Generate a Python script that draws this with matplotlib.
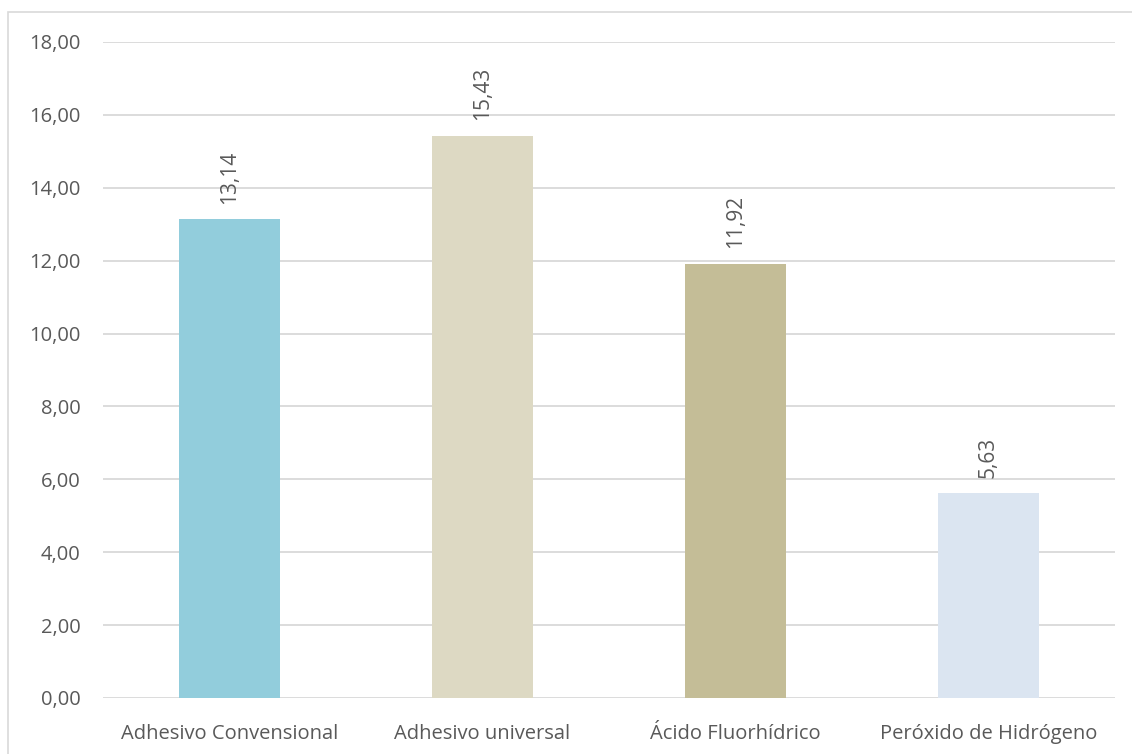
import matplotlib.pyplot as plt
from matplotlib.patches import Rectangle

# Datos del gráfico
categorias = ["Adhesivo Convensional", "Adhesivo universal", "Ácido Fluorhídrico", "Peróxido de Hidrógeno"]
valores = [13.14, 15.43, 11.92, 5.63]
colores = ["#92CDDC", "#DDD9C3", "#C4BD97", "#DBE5F1"]
yticks = [0, 2, 4, 6, 8, 10, 12, 14, 16, 18]

plt.rcParams['font.family'] = ['Open Sans', 'DejaVu Sans']
texto = "#595959"

fig = plt.figure(figsize=(11.32, 7.54), dpi=100)
ax = fig.add_axes([103 / 1132, 1 - 698 / 754, 1012 / 1132, 656 / 754])

# Marco exterior
fig.patches.append(Rectangle((8 / 1132, -0.01), 1.02, 1 - 12 / 754 + 0.01,
                             transform=fig.transFigure, fill=False,
                             edgecolor="#D9D9D9", linewidth=1.2))

x = range(len(categorias))
barras = ax.bar(x, valores, width=0.403, color=colores, zorder=2)

for xi, v in zip(x, valores):
    ax.annotate(f"{v:.2f}".replace(".", ","), (xi, v), xytext=(0, 11),
                textcoords="offset points", rotation=90, ha="center",
                va="bottom", fontsize=15, color=texto)

ax.set_xlim(-0.5, 3.5)
ax.set_ylim(0, 18)
ax.set_yticks(yticks)
ax.set_yticklabels([f"{t:.2f}".replace(".", ",") for t in yticks])
ax.set_xticks(list(x))
ax.set_xticklabels(categorias)
ax.tick_params(axis="both", length=0, labelsize=14.5, labelcolor=texto)
ax.tick_params(axis="y", pad=16)
ax.tick_params(axis="x", pad=19)

ax.grid(axis="y", color="#D9D9D9", linewidth=1.3, zorder=0)
for s in ax.spines.values():
    s.set_visible(False)

fig.savefig("out.png", dpi=100)
